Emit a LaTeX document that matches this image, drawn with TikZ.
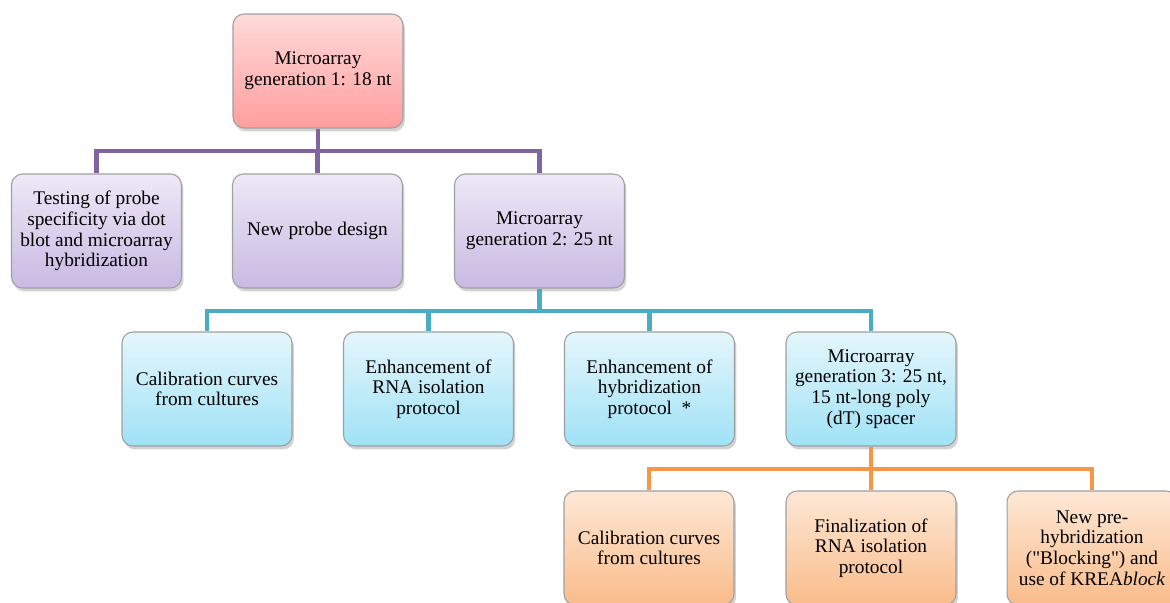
\documentclass[tikz,border=0pt]{standalone}
\usepackage{fontspec}
\setmainfont{Liberation Serif}
\usetikzlibrary{shadows}

\definecolor{rootTop}{RGB}{255,218,218}
\definecolor{rootBot}{RGB}{255,158,158}
\definecolor{lilaTop}{RGB}{238,232,247}
\definecolor{lilaBot}{RGB}{200,186,226}
\definecolor{aquaTop}{RGB}{228,246,252}
\definecolor{aquaBot}{RGB}{160,226,246}
\definecolor{apriTop}{RGB}{253,232,214}
\definecolor{apriBot}{RGB}{250,188,138}
\definecolor{lilaLine}{RGB}{128,100,162}
\definecolor{aquaLine}{RGB}{75,172,198}
\definecolor{apriLine}{RGB}{247,150,70}

\begin{document}
\begin{tikzpicture}[
    x=0.02cm, y=-0.02cm,
    card/.style={
        rectangle, rounded corners=0.22cm, draw=gray!75, line width=0.6pt,
        minimum width=3.4cm, minimum height=2.28cm,
        align=center, font=\fontsize{11}{11.8}\selectfont,
        drop shadow={opacity=0.35, shadow xshift=0.04cm, shadow yshift=-0.07cm}
    },
    rootcard/.style={card, top color=rootTop, bottom color=rootBot},
    lilacard/.style={card, top color=lilaTop, bottom color=lilaBot},
    aquacard/.style={card, top color=aquaTop, bottom color=aquaBot},
    apricard/.style={card, top color=apriTop, bottom color=apriBot},
    bus/.style={line width=2.8pt}
]
\useasboundingbox (0,0) rectangle (1170,602);

% Generation 1
\node[rootcard] (gen1) at (318,71) {Microarray\\generation 1: 18 nt};

% Second row
\node[lilacard] (dotblot) at (96.5,231) {Testing of probe\\specificity via dot\\blot and microarray\\hybridization};
\node[lilacard] (probe) at (317.5,231) {New probe design};
\node[lilacard] (gen2) at (539.5,231) {Microarray\\generation 2: 25 nt};

% Third row
\node[aquacard] (calibA) at (207,389) {Calibration curves\\from cultures};
\node[aquacard] (rnaA) at (428.5,389) {Enhancement of\\RNA isolation\\protocol};
\node[aquacard] (hybA) at (649.5,389) {Enhancement of\\hybridization\\protocol\ \ *};
\node[aquacard] (gen3) at (871,389) {Microarray\\generation 3: 25 nt,\\15 nt-long poly\\(dT) spacer};

% Fourth row
\node[apricard] (calibB) at (649,548) {Calibration curves\\from cultures};
\node[apricard] (rnaB) at (871,548) {Finalization of\\RNA isolation\\protocol};
\node[apricard] (block) at (1092,548) {New pre-\\hybridization\\(\textquotedbl Blocking\textquotedbl) and\\use of KREA\textit{block}};

% Branch points
\coordinate (j1) at (318,151);
\coordinate (j2) at (539.5,311);
\coordinate (j3) at (871,469);

% Connectors
\draw[bus, lilaLine] (gen1.south) -- (j1);
\draw[bus, lilaLine] (dotblot.north) |- (j1) -| (gen2.north);
\draw[bus, lilaLine] (probe.north) -- (probe.north |- j1);

\draw[bus, aquaLine] (gen2.south) -- (j2);
\draw[bus, aquaLine] (calibA.north) |- (j2) -| (gen3.north);
\draw[bus, aquaLine] (rnaA.north) -- (rnaA.north |- j2);
\draw[bus, aquaLine] (hybA.north) -- (hybA.north |- j2);

\draw[bus, apriLine] (gen3.south) -- (j3);
\draw[bus, apriLine] (calibB.north) |- (j3) -| (block.north);
\draw[bus, apriLine] (rnaB.north) -- (rnaB.north |- j3);

\end{tikzpicture}
\end{document}
